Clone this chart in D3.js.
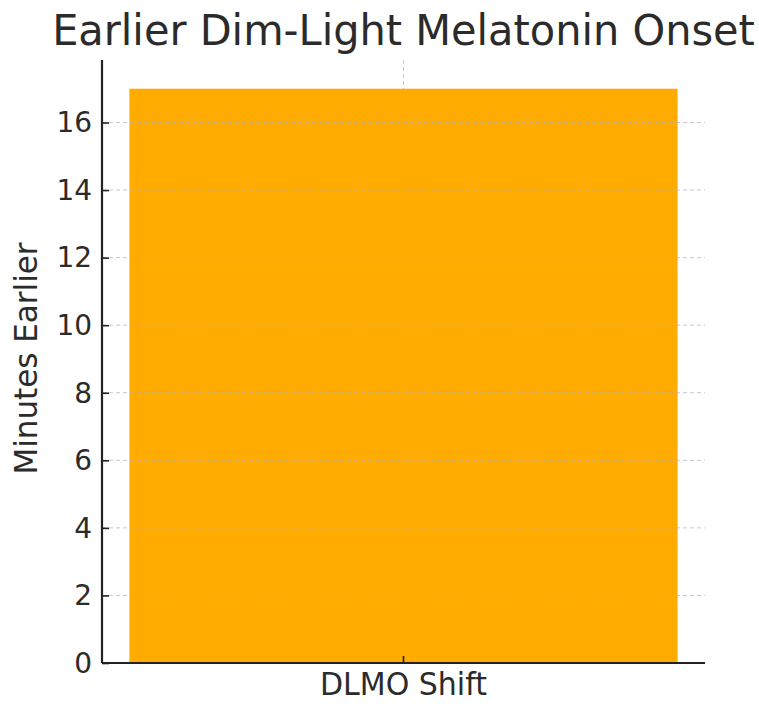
<!DOCTYPE html>
<html>
<head>
<meta charset="utf-8">
<script src="https://cdn.jsdelivr.net/npm/d3@7"></script>
<style>
  html, body { margin: 0; padding: 0; background: #fff; }
  svg text { font-family: "DejaVu Sans", sans-serif; fill: #2b2b2b; }
</style>
</head>
<body>
<svg id="chart" width="759" height="704"></svg>
<script>
// Single-bar chart: DLMO shift in minutes
const categories = ["DLMO Shift"];
const values = [17];
const yTicks = [0, 2, 4, 6, 8, 10, 12, 14, 16];
const titleText = "Earlier Dim-Light Melatonin Onset";
const yLabel = "Minutes Earlier";

const svg = d3.select("#chart");
const margin = { left: 102, right: 54, top: 60, bottom: 41 };
const W = 759, H = 704;
const plotW = W - margin.left - margin.right;
const plotH = H - margin.top - margin.bottom;
const stretch = 1.04; // text is a touch taller than wide

const maxV = d3.max(values);
const y = d3.scaleLinear().domain([0, maxV * 1.05]).range([plotH, 0]);
const x = d3.scaleBand().domain(categories).range([0, plotW]).padding(0);
// bar width 0.8 inside an axis span of 0.88 (5% margins on each side)
const barFrac = 0.8 / 0.88;
const cx = d => x(d) + x.bandwidth() / 2;

const g = svg.append("g").attr("transform", `translate(${margin.left},${margin.top})`);

// bar
g.selectAll("rect.bar").data(categories).join("rect")
  .attr("class", "bar")
  .attr("x", d => cx(d) - plotW * barFrac / 2)
  .attr("width", plotW * barFrac)
  .attr("y", (d, i) => y(values[i]))
  .attr("height", (d, i) => y(0) - y(values[i]))
  .attr("fill", "#FFAB00");

// dashed gridlines drawn above the bar
g.append("g").selectAll("line").data(yTicks.filter(t => t > 0)).join("line")
  .attr("x1", 0).attr("x2", plotW)
  .attr("y1", d => y(d)).attr("y2", d => y(d))
  .attr("stroke", "#b0b0b0").attr("stroke-opacity", 0.7)
  .attr("stroke-width", 1).attr("stroke-dasharray", "4,3");
g.append("g").selectAll("line").data(categories).join("line")
  .attr("x1", d => cx(d)).attr("x2", d => cx(d))
  .attr("y1", 0).attr("y2", plotH)
  .attr("stroke", "#b0b0b0").attr("stroke-opacity", 0.7)
  .attr("stroke-width", 1).attr("stroke-dasharray", "4,3");

// y axis, ticks pointing inward
const yAxis = g.append("g")
  .call(d3.axisLeft(y).tickValues(yTicks).tickSize(0).tickPadding(10).tickFormat(d3.format("d")));
yAxis.select(".domain").attr("stroke", "#222").attr("stroke-width", 2.2).attr("d", `M0,0V${plotH}`);
yAxis.selectAll(".tick line").attr("stroke", "#222").attr("stroke-width", 1.6).attr("x2", 7);
yAxis.selectAll(".tick text").attr("font-size", 28).attr("fill", "#2b2b2b")
  .attr("transform", `scale(1,${stretch})`)
  .style("font-family", "DejaVu Sans, sans-serif");

// x axis, tick pointing inward
const xAxis = g.append("g").attr("transform", `translate(0,${plotH})`)
  .call(d3.axisBottom(x).tickSize(0).tickPadding(8));
xAxis.select(".domain").attr("stroke", "#222").attr("stroke-width", 2.2).attr("d", `M0,0H${plotW}`);
xAxis.selectAll(".tick line").attr("stroke", "#222").attr("stroke-width", 1.6).attr("y2", -7);
xAxis.selectAll(".tick text").attr("font-size", 30).attr("fill", "#2b2b2b")
  .attr("y", 9)
  .attr("transform", `scale(1,${stretch})`)
  .style("font-family", "DejaVu Sans, sans-serif");

// title
svg.append("text")
  .attr("transform", `translate(${margin.left + plotW / 2},45) scale(1,${stretch})`)
  .attr("text-anchor", "middle")
  .attr("font-size", 41.5)
  .attr("fill", "#333")
  .text(titleText);

// y label
svg.append("text")
  .attr("transform", `translate(37,${margin.top + plotH / 2 - 3}) rotate(-90) scale(1,${stretch})`)
  .attr("text-anchor", "middle")
  .attr("font-size", 31)
  .text(yLabel);
</script>
</body>
</html>
